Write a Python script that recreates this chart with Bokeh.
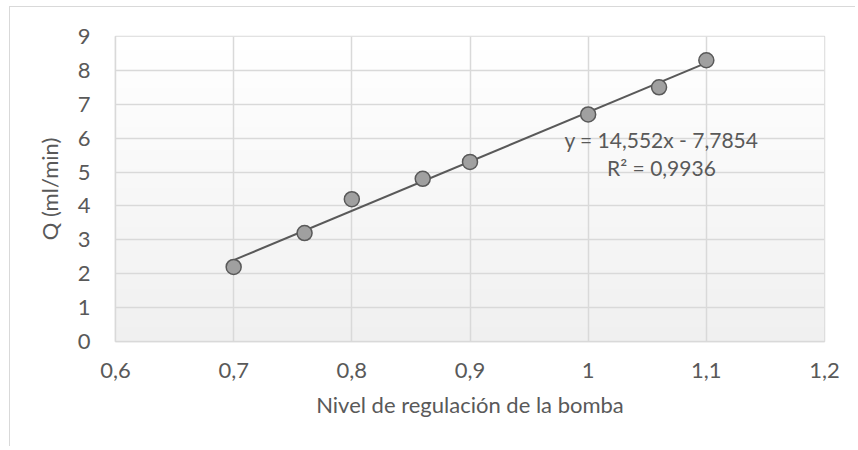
import numpy as np
from bokeh.plotting import figure
from bokeh.models import FixedTicker, Range1d, Label
from bokeh.embed import file_html
from bokeh.resources import INLINE

# data
nivel = [0.70, 0.76, 0.80, 0.86, 0.90, 1.00, 1.06, 1.10]
caudal = [2.2, 3.2, 4.2, 4.8, 5.3, 6.7, 7.5, 8.3]
slope = 14.552
intercept = -7.7854
eq_text = "y = 14,552x - 7,7854"
r2_text = "R² = 0,9936"
x_ticks = [0.6, 0.7, 0.8, 0.9, 1.0, 1.1, 1.2]
x_tick_labels = ["0,6", "0,7", "0,8", "0,9", "1", "1,1", "1,2"]
y_ticks = list(range(0, 10))
x_title = "Nivel de regulación de la bomba"
y_title = "Q (ml/min)"

FONT = "Lato"
TXT = "#595959"
GRID = "#d9d9d9"
FS = "22px"

p = figure(width=846, height=440, output_backend="svg", toolbar_location=None,
           x_range=Range1d(0.6, 1.2), y_range=Range1d(0, 9),
           min_border_left=105, min_border_right=32, min_border_top=29, min_border_bottom=106)
p.styles = {"border-top": "1px solid #d9d9d9", "border-left": "1px solid #d9d9d9",
            "margin-left": "9px", "margin-top": "6px"}
p.background_fill_color = "white"
p.border_fill_color = "white"
p.outline_line_color = GRID
p.outline_line_width = 1.5

# plot-area gradient background
h = 64
grad = np.zeros((h, 1), dtype=np.uint32)
view = grad.view(dtype=np.uint8).reshape((h, 1, 4))
for i in range(h):
    t = i / (h - 1)  # 0 bottom, 1 top
    c = int(round(240 + (255 - 240) * t))
    view[i, 0, :] = [c, c, c, 255]
img = p.image_rgba(image=[grad], x=x_ticks[0], y=y_ticks[0], dw=x_ticks[-1] - x_ticks[0],
                   dh=y_ticks[-1] - y_ticks[0])
img.level = "image"

for ax in (p.xaxis, p.yaxis):
    ax.axis_line_color = GRID
    ax.axis_line_width = 1.5
    ax.major_tick_line_color = None
    ax.minor_tick_line_color = None
    ax.major_label_text_font = FONT
    ax.major_label_text_font_size = FS
    ax.major_label_text_color = TXT
    ax.axis_label_text_font = FONT
    ax.axis_label_text_font_size = FS
    ax.axis_label_text_color = TXT
    ax.axis_label_text_font_style = "normal"

p.xaxis.ticker = FixedTicker(ticks=x_ticks)
p.xaxis.major_label_overrides = {t: l for t, l in zip(x_ticks, x_tick_labels)}
p.yaxis.ticker = FixedTicker(ticks=y_ticks)
p.xaxis.axis_label = x_title
p.yaxis.axis_label = y_title
p.xaxis.major_label_standoff = 15
p.xaxis.axis_label_standoff = 10
p.yaxis.major_label_standoff = 19
p.yaxis.axis_label_standoff = 12

p.xgrid.grid_line_color = GRID
p.ygrid.grid_line_color = GRID
p.xgrid.grid_line_width = 1.5
p.ygrid.grid_line_width = 1.5

# trendline from fit coefficients
xs = [min(nivel), max(nivel)]
ys = [slope * x + intercept for x in xs]
p.line(xs, ys, line_color="#595959", line_width=2)

p.scatter(nivel, caudal, size=15, fill_color="#a0a0a0", line_color="#595959", line_width=1.5)

p.add_layout(Label(x=1.062, y=5.97, text=eq_text, text_font=FONT, text_font_size="21px",
                   text_color=TXT, text_align="center", text_baseline="middle"))
p.add_layout(Label(x=1.062, y=5.14, text=r2_text, text_font=FONT, text_font_size="21px",
                   text_color=TXT, text_align="center", text_baseline="middle"))

open("out.html", "w").write(file_html(p, INLINE))
